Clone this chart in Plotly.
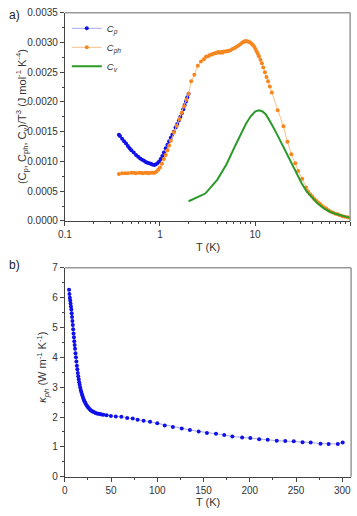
import plotly.graph_objects as go

# ---------------- data: panel a ----------------
T_cp = [0.37, 0.38, 0.40, 0.42, 0.44, 0.46, 0.48, 0.50, 0.53, 0.56, 0.59, 0.62, 0.65, 0.68,
        0.71, 0.74, 0.77, 0.80, 0.83, 0.87, 0.90, 0.94, 0.98, 1.02, 1.06, 1.10, 1.15, 1.20,
        1.25, 1.30, 1.35, 1.40, 1.46, 1.52, 1.58, 1.64, 1.70, 1.76, 1.82, 1.88, 1.94, 2.00]
Cp = [0.00145, 0.00143, 0.00138, 0.00134, 0.00130, 0.00126, 0.00122, 0.00119, 0.00115, 0.00111,
      0.00108, 0.00105, 0.00103, 0.00101, 0.00099, 0.00098, 0.00097, 0.00096, 0.00095, 0.00094,
      0.00095, 0.00097, 0.00100, 0.00104, 0.00109, 0.00115, 0.00122, 0.00128, 0.00134, 0.00140,
      0.00145, 0.00150, 0.00157, 0.00163, 0.00169, 0.00175, 0.00181, 0.00188, 0.00195, 0.00201,
      0.00208, 0.00214]

T_cph = [0.37, 0.40, 0.43, 0.46, 0.50, 0.53, 0.56, 0.60, 0.63, 0.66, 0.70, 0.73, 0.76, 0.80,
         0.84, 0.88, 0.92, 0.96, 1.00, 1.05, 1.10, 1.15, 1.20, 1.25, 1.30, 1.40, 1.50, 1.60,
         1.70, 1.80, 1.90, 2.00, 2.13, 2.30, 2.50, 2.70, 2.90, 3.05, 3.20, 3.35, 3.50, 3.65,
         3.80, 3.95, 4.10, 4.25, 4.40, 4.55, 4.70, 4.90, 5.10, 5.30, 5.50, 5.80, 6.10, 6.40,
         6.70, 7.00, 7.35, 7.60, 7.80, 8.00, 8.30, 8.60, 8.90, 9.20, 9.50, 9.80, 10.1, 10.4,
         10.7, 11.0, 11.4, 11.8, 12.2, 12.7, 13.2, 13.7, 14.3, 15.0, 17.3, 19.9, 21.9, 24.1,
         26.5, 28.4, 31.3, 34.4, 36.0, 38.0, 40.0, 42.0, 44.0, 46.0, 48.0, 50.0, 53.0, 56.0,
         59.0, 62.0, 66.0, 70.0, 74.0, 78.0, 83.0, 88.0, 94.0, 100.0]
Cph = [0.00079, 0.00080, 0.00080, 0.00080, 0.00081, 0.00081, 0.00080, 0.00081, 0.00081, 0.00080,
       0.00081, 0.00081, 0.00080, 0.00081, 0.00081, 0.00081, 0.00083, 0.00086, 0.00090, 0.00096,
       0.00104, 0.00111, 0.00119, 0.00127, 0.00135, 0.00149, 0.00160, 0.00171, 0.00182, 0.00193,
       0.00204, 0.00214, 0.00235, 0.00246, 0.00261, 0.00268, 0.00272, 0.00276, 0.00277, 0.00279,
       0.00280, 0.00281, 0.00282, 0.00283, 0.00284, 0.00283, 0.00284, 0.00283, 0.00285, 0.00285,
       0.00286, 0.00286, 0.00287, 0.00289, 0.00291, 0.00293, 0.00295, 0.00297, 0.00300, 0.00301,
       0.00302, 0.00302, 0.00302, 0.00301, 0.00300, 0.00298, 0.00296, 0.00293, 0.00289, 0.00285,
       0.00281, 0.00277, 0.00271, 0.00265, 0.00258, 0.00250, 0.00242, 0.00235, 0.00226, 0.00216,
       0.00186, 0.00159, 0.00133, 0.00112, 0.00097, 0.00084, 0.00071, 0.00056, 0.00050, 0.00045,
       0.00041, 0.00037, 0.00034, 0.00031, 0.00029, 0.00026, 0.00023, 0.00021, 0.00018, 0.00016,
       0.00014, 0.00012, 0.00011, 0.000095, 0.00008, 0.00007, 0.00006, 0.00005]

T_cv = [2, 3, 4, 5, 6, 7, 8, 9, 10, 11, 12, 13, 14, 15, 17, 19, 21, 24, 27, 31, 35, 39,
        45, 53, 62, 70, 80, 90, 100]
Cv = [0.00033, 0.00046, 0.00069, 0.00095, 0.00122, 0.00145, 0.00163, 0.00176, 0.00184, 0.00186,
      0.00184, 0.00179, 0.00171, 0.00162, 0.00146, 0.00131, 0.00116, 0.00098, 0.00081, 0.00063,
      0.00049, 0.00040, 0.00030, 0.00021, 0.00015, 0.00012, 0.00009, 0.00007, 0.00005]

# ---------------- data: panel b ----------------
T_k = [4.6, 5.0, 5.4, 5.8, 6.2, 6.6, 7.0, 7.4, 7.8, 8.2, 8.6, 9.0, 9.4, 9.8, 10.2, 10.6, 11.0,
       11.5, 12.0, 12.5, 13.0, 13.5, 14.0, 14.5, 15.0, 15.5, 16.0, 16.6, 17.2, 17.8, 18.4, 19.0,
       19.7, 20.4, 21.2, 22.0, 22.9, 23.8, 24.8, 25.8, 26.9, 28.0, 29.2, 30.5, 31.8, 33.2, 34.7,
       36.3, 38.0, 39.8, 41.7, 45.2, 49.8, 55.1, 61.1, 67.4, 73.4, 78.7, 85.1, 92.1, 99.9, 108.0,
       116.8, 126.4, 135.2, 144.7, 153.6, 163.4, 172.3, 181.1, 191.7, 200.5, 210.1, 219.3, 229.1,
       238.3, 247.5, 257.0, 265.8, 276.4, 285.2, 295.1, 300.4]
kappa = [6.26, 6.12, 6.00, 5.90, 5.80, 5.70, 5.60, 5.48, 5.35, 5.22, 5.08, 4.94, 4.80, 4.67,
         4.54, 4.41, 4.29, 4.14, 4.00, 3.86, 3.72, 3.60, 3.48, 3.37, 3.27, 3.17, 3.08, 2.99,
         2.91, 2.84, 2.77, 2.71, 2.65, 2.59, 2.53, 2.48, 2.43, 2.38, 2.34, 2.30, 2.26, 2.23,
         2.20, 2.18, 2.16, 2.14, 2.12, 2.11, 2.10, 2.09, 2.08, 2.06, 2.04, 2.02, 2.01, 1.97,
         1.95, 1.91, 1.88, 1.84, 1.79, 1.72, 1.67, 1.62, 1.57, 1.52, 1.47, 1.44, 1.40, 1.35,
         1.32, 1.30, 1.26, 1.24, 1.21, 1.20, 1.19, 1.16, 1.15, 1.11, 1.10, 1.10, 1.15]

ya_ticks = [0.0, 0.0005, 0.0010, 0.0015, 0.0020, 0.0025, 0.0030, 0.0035]
xa_ticks = [0.1, 1, 10, 100]
xa_minor = [0.2, 0.3, 0.4, 0.5, 0.6, 0.7, 0.8, 0.9, 2, 3, 4, 5, 6, 7, 8, 9,
            20, 30, 40, 50, 60, 70, 80, 90]

BLUE = "#1010e8"
ORANGE = "#f7861e"
GREEN = "#2a9a2a"
FONT = "Liberation Sans, Arial, sans-serif"

fig = go.Figure()
fig.add_trace(go.Scatter(x=T_cp, y=Cp, mode="lines+markers", name="<i>C<sub>p</sub></i>",
                         line=dict(color="#a8a8f0", width=1),
                         marker=dict(color=BLUE, size=4), xaxis="x", yaxis="y"))
fig.add_trace(go.Scatter(x=T_cph, y=Cph, mode="lines+markers", name="<i>C<sub>ph</sub></i>",
                         line=dict(color="#f9c089", width=1),
                         marker=dict(color=ORANGE, size=4), xaxis="x", yaxis="y"))
fig.add_trace(go.Scatter(x=T_cv, y=Cv, mode="lines", name="<i>C<sub>v</sub></i>",
                         line=dict(color=GREEN, width=2), xaxis="x", yaxis="y"))
fig.add_trace(go.Scatter(x=T_k, y=kappa, mode="lines+markers", showlegend=False,
                         line=dict(color="#a8a8f0", width=1),
                         marker=dict(color=BLUE, size=4), xaxis="x2", yaxis="y2"))

axcommon = dict(showline=True, linecolor="#444", linewidth=1, ticks="outside", ticklen=4,
                tickcolor="#444", showgrid=False, zeroline=False,
                tickfont=dict(family=FONT, size=10, color="#333"))

fig.update_layout(
    width=357, height=516, margin=dict(l=0, r=0, t=0, b=0),
    paper_bgcolor="white", plot_bgcolor="white",
    font=dict(family=FONT, color="#333"),
    xaxis=dict(type="log", range=[-1, 2], domain=[59/357, 350/357], anchor="y",
               tickvals=xa_ticks, ticktext=["0.1", "1", "10", "100"],
               minor=dict(tickvals=xa_minor, ticks="outside", ticklen=2, tickcolor="#444"),
               **axcommon),
    yaxis=dict(range=[0, 0.0035], domain=[(516-220)/516, (516-7)/516], anchor="x",
               tickvals=ya_ticks, tickformat=".4f",
               minor=dict(dtick=0.00025, ticks="outside", ticklen=2, tickcolor="#444"),
               **axcommon),
    xaxis2=dict(range=[0, 309.5], domain=[59/357, 351/357], anchor="y2", dtick=50,
                minor=dict(dtick=25, ticks="outside", ticklen=2, tickcolor="#444"),
                **axcommon),
    yaxis2=dict(range=[0, 7], domain=[(516-482)/516, (516-268)/516], anchor="x2", dtick=1,
                minor=dict(dtick=0.5, ticks="outside", ticklen=2, tickcolor="#444"),
                **axcommon),
    legend=dict(x=61/357, y=(516-8)/516, xanchor="left", yanchor="top",
                bgcolor="rgba(0,0,0,0)", font=dict(family=FONT, size=9.5, color="#333"),
                itemwidth=30, tracegroupgap=0),
)

# grey top/right frame lines
for xr, yr in [("x", "y"), ("x2", "y2")]:
    fig.add_shape(type="line", xref=f"{xr} domain", yref=f"{yr} domain", x0=0, x1=1, y0=1, y1=1,
                  line=dict(color="#999", width=1.5))
    fig.add_shape(type="line", xref=f"{xr} domain", yref=f"{yr} domain", x0=1, x1=1, y0=0, y1=1,
                  line=dict(color="#999", width=1.5))

ann = [
    dict(text="a)", x=0, y=1.0, xanchor="left", yanchor="top", font=dict(size=12, color="#222")),
    dict(text="b)", x=0, y=(516-256)/516, xanchor="left", yanchor="top", font=dict(size=12, color="#222")),
    dict(text="(C<sub>p</sub>, C<sub>ph</sub>, C<sub>v</sub>)/T<sup>3</sup> (J mol<sup>-1</sup> K<sup>-4</sup>)",
         x=16/357, y=(516-113)/516, textangle=-90, xanchor="center", yanchor="middle",
         font=dict(size=11, color="#333")),
    dict(text="T (K)", x=205/357, y=(516-247)/516, xanchor="center", yanchor="middle",
         font=dict(size=11, color="#333")),
    dict(text="<i>κ<sub>ph</sub></i> (W m<sup>-1</sup> K<sup>-1</sup>)",
         x=37/357, y=(516-370)/516, textangle=-90, xanchor="center", yanchor="middle",
         font=dict(size=11, color="#333")),
    dict(text="T (K)", x=205/357, y=(516-508)/516, xanchor="center", yanchor="middle",
         font=dict(size=11, color="#333")),
]
for a in ann:
    a.update(xref="paper", yref="paper", showarrow=False)
    a["font"]["family"] = FONT
    fig.add_annotation(**a)

fig.write_html("out.html")
